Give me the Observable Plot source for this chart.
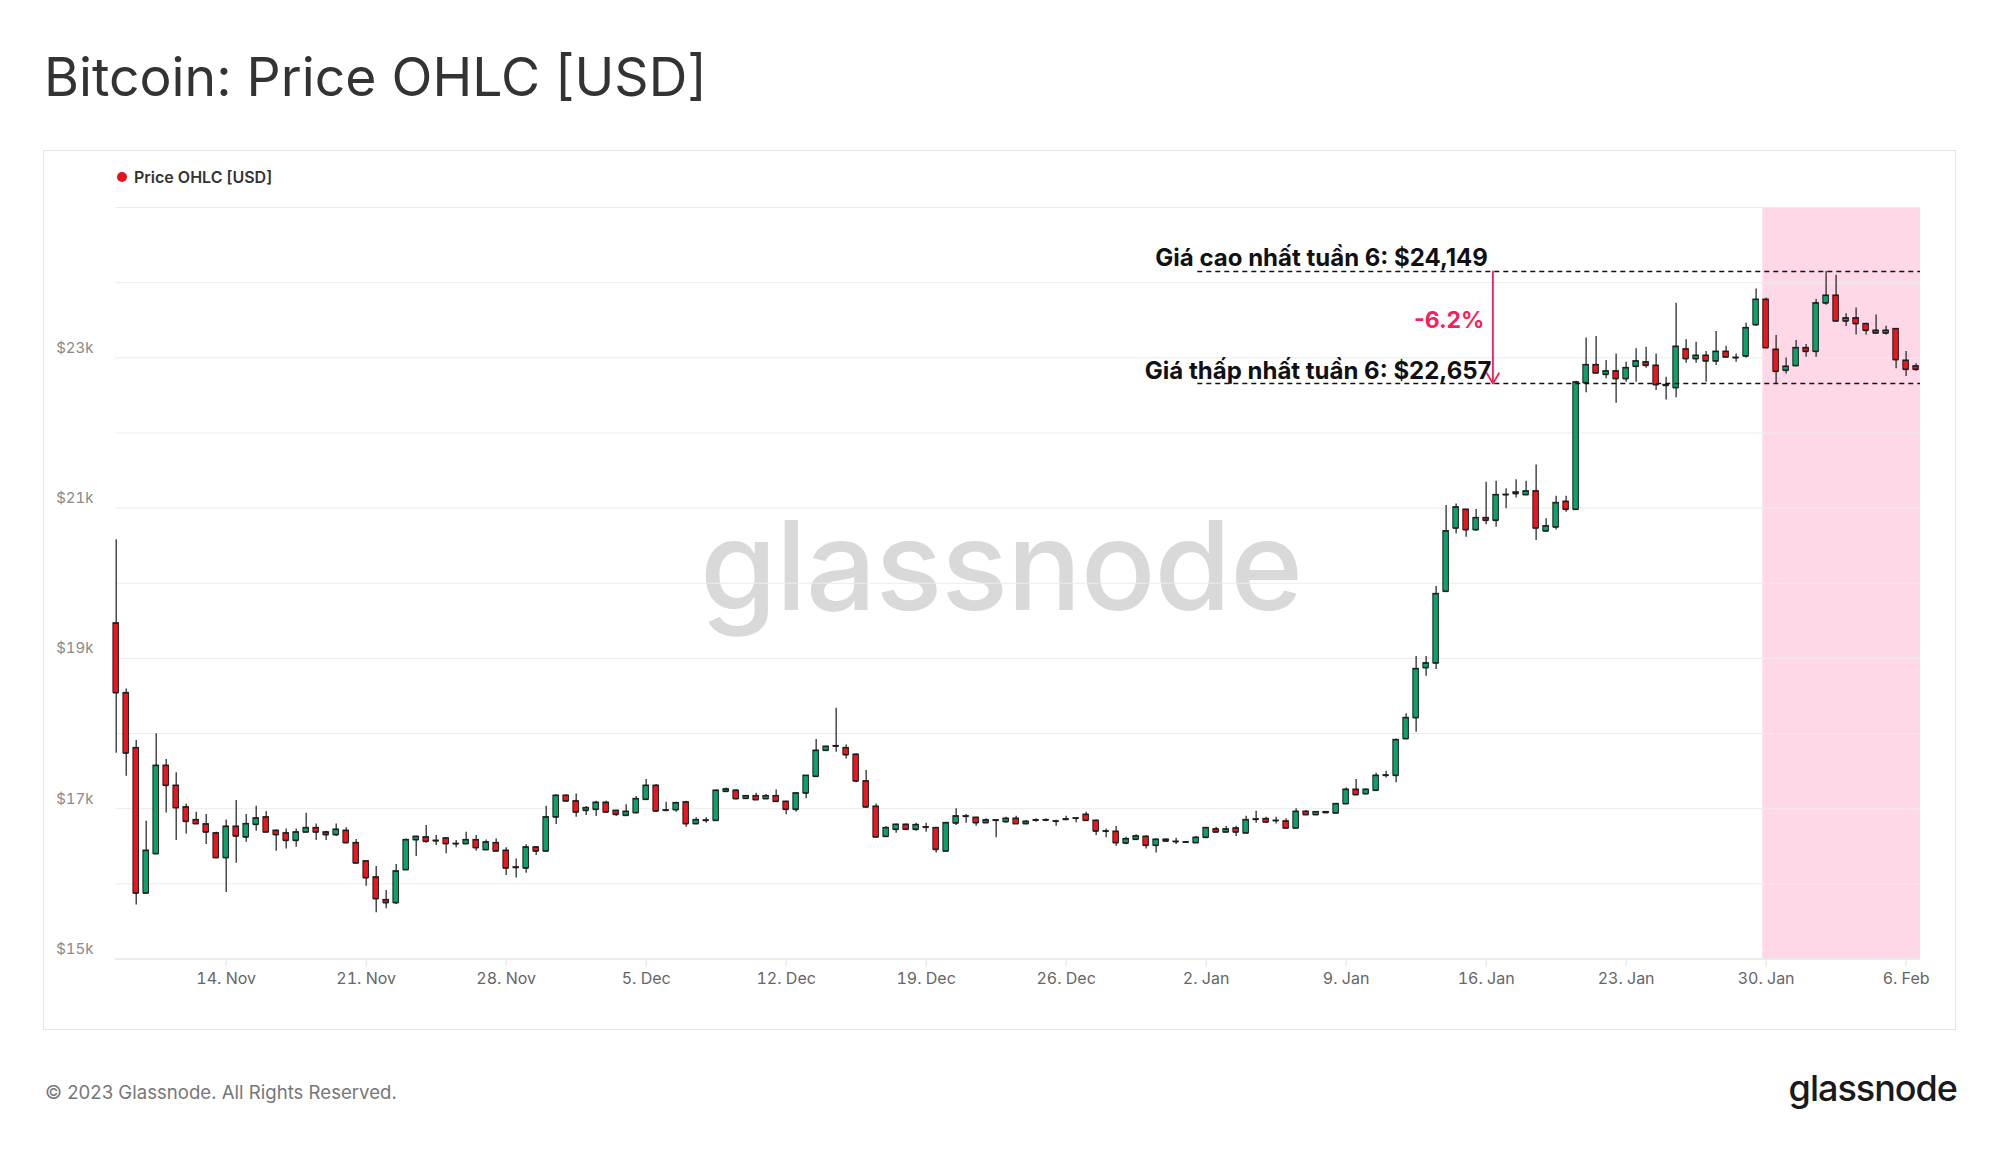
<!DOCTYPE html>
<html>
<head>
<meta charset="utf-8">
<script src="https://cdn.jsdelivr.net/npm/d3@7"></script>
<script src="https://cdn.jsdelivr.net/npm/@observablehq/plot@0.6"></script>
<style>
  html, body { margin: 0; padding: 0; background: #fff; }
  #page { position: relative; width: 2000px; height: 1152px; overflow: hidden; font-family: Inter, "Noto Sans", sans-serif; }
  #title { position: absolute; left: 44px; top: 45px; font-size: 53.5px; line-height: 64px; color: #333; white-space: nowrap; }
  #frame { position: absolute; left: 43px; top: 150px; width: 1913px; height: 880px; border: 1px solid #e4e4e4; box-sizing: border-box; }
  #legend-dot { position: absolute; left: 117px; top: 172px; width: 10px; height: 10px; border-radius: 50%; background: #e8101a; }
  #legend-text { position: absolute; left: 134px; top: 168px; font-size: 16px; line-height: 19px; font-weight: 600; color: #333; white-space: nowrap; }
  #watermark { position: absolute; left: 1001px; top: 491px; transform: translateX(-50%); font-size: 124px; line-height: 149px; font-weight: 500; letter-spacing: -1px; color: #d9d9d9; white-space: nowrap; }
  #footer { position: absolute; left: 45px; top: 1081px; font-size: 18.6px; line-height: 23px; color: #777; white-space: nowrap; }
  #logo { position: absolute; right: 43px; top: 1067px; font-size: 36px; line-height: 43px; font-weight: 500; letter-spacing: -1px; color: #1a1a1a; white-space: nowrap; }
  #chart { position: absolute; left: 0; top: 0; }
</style>
</head>
<body>
<div id="page">
  <div id="title">Bitcoin: Price OHLC [USD]</div>
  <div id="frame"></div>
  <div id="legend-dot"></div>
  <div id="legend-text">Price OHLC [USD]</div>
  <div id="watermark">glassnode</div>
  <div id="footer">© 2023 Glassnode. All Rights Reserved.</div>
  <div id="logo">glassnode</div>
  <div id="chart"></div>
</div>
<script>
// ---- Data: 12h Bitcoin candles starting 2022-11-08 12:00 UTC ----
const startTime = "2022-11-08T12:00:00Z";
const stepHours = 12;

const open = [
19468,18541,17809,15875,16399,17574,17308,17020,16851,16794,16674,16346,16763,16621,16789,16887,16709,16674,16576,16687,
16745,16687,16652,16709,16545,16301,16088,15787,15747,16186,16585,16621,16576,16607,16532,16532,16585,16452,16545,16443,
16221,16208,16487,16434,16887,17175,17100,16975,16989,17082,16975,16909,16944,17122,17308,16975,16984,17086,16798,16842,
16842,17228,17242,17135,17170,17131,17170,17095,16989,17206,17428,17774,17831,17809,17721,17366,17029,16629,16723,16789,
16723,16754,16745,16434,16807,16900,16882,16811,16847,16825,16869,16798,16847,16847,16833,16855,16873,16922,16842,16700,
16696,16541,16590,16629,16510,16590,16563,16554,16545,16616,16727,16687,16740,16674,16860,16865,16842,16833,16740,16962,
16918,16957,16940,17064,17255,17197,17242,17441,17441,17929,18209,18874,18936,19890,20732,20981,20710,20870,20835,21176,
21190,21176,21225,20693,20746,21087,20981,22666,22906,22777,22822,22720,22884,22942,22897,22640,22600,23114,22986,23030,
22955,23083,22999,23021,23438,23775,23110,22831,22893,23132,23083,23727,23829,23487,23527,23452,23363,23327,23385,22964,
22888
];
const high = [
20578,18594,17907,16833,17996,17654,17477,17064,16953,16922,16687,16851,17108,16922,17033,16962,16718,16731,16731,16940,
16798,16700,16798,16745,16589,16301,16230,15911,16257,16598,16634,16776,16643,16607,16576,16687,16643,16585,16598,16479,
16332,16519,16497,17033,17184,17184,17197,17029,17100,17100,16975,17051,17162,17388,17321,17086,17086,17100,16878,16878,
17250,17277,17255,17175,17206,17188,17250,17100,17206,17441,17920,17831,18337,17849,17730,17508,17064,16763,16798,16798,
16807,16807,16754,16820,16998,16922,16887,16865,16851,16887,16900,16842,16865,16865,16847,16900,16878,16953,16851,16731,
16763,16620,16652,16643,16598,16598,16607,16563,16629,16754,16754,16763,16767,16900,16967,16887,16887,16865,16998,16975,
16962,16962,17073,17277,17388,17264,17472,17499,17929,18262,19025,19025,19956,21034,21056,20981,20981,21345,21358,21256,
21376,21358,21575,20857,21158,21158,22689,23265,23283,22964,23052,22942,23119,23141,23052,22742,23727,23239,23208,23083,
23350,23154,23052,23461,23917,23797,23296,22999,23230,23177,23775,24149,24100,23585,23664,23461,23571,23420,23385,23083,
22920
];
const low = [
17738,17432,15720,15875,16399,16944,16576,16665,16798,16523,16346,15884,16275,16554,16700,16687,16434,16465,16488,16687,
16576,16576,16630,16541,16266,15969,15614,15667,15725,16186,16363,16541,16510,16399,16479,16523,16434,16452,16434,16110,
16079,16141,16377,16434,16789,17100,16887,16909,16896,16944,16896,16896,16944,17108,16953,16962,16953,16754,16798,16807,
16833,17220,17118,17127,17109,17131,17095,16918,16953,17131,17428,17774,17752,17663,17344,17011,16621,16621,16674,16723,
16700,16687,16412,16434,16776,16807,16767,16811,16612,16811,16789,16789,16820,16825,16767,16838,16812,16842,16643,16612,
16501,16519,16590,16465,16412,16554,16523,16545,16545,16607,16687,16687,16629,16674,16807,16807,16798,16740,16740,16909,
16918,16940,16940,17064,17175,17184,17242,17410,17344,17929,18018,18763,18852,19890,20657,20613,20692,20777,20746,20990,
21136,21176,20568,20693,20710,20946,20970,22535,22795,22720,22396,22675,22675,22862,22564,22440,22467,22928,22928,22675,
22897,23008,22942,22999,23416,23119,22657,22786,22884,23008,23008,23700,23487,23416,23305,23305,23318,23305,22853,22751,
22822
];
const close = [
18541,17738,15875,16443,17574,17308,17011,16829,16798,16687,16346,16763,16634,16798,16873,16687,16652,16576,16687,16745,
16687,16652,16723,16545,16275,16079,15800,15747,16168,16585,16629,16563,16570,16532,16535,16585,16479,16554,16434,16208,
16215,16487,16434,16887,17175,17100,16953,17011,17082,16953,16922,16962,17131,17308,16967,16980,17077,16798,16851,16846,
17242,17259,17131,17170,17117,17170,17095,16989,17206,17441,17774,17827,17835,17716,17366,17020,16621,16745,16789,16723,
16785,16750,16456,16811,16900,16896,16811,16847,16843,16869,16798,16829,16845,16850,16830,16860,16870,16842,16700,16698,
16545,16598,16634,16510,16590,16567,16560,16552,16616,16745,16687,16727,16687,16851,16856,16820,16840,16740,16962,16918,
16957,16945,17064,17255,17184,17255,17441,17445,17916,18209,18861,18936,19859,20693,21012,20710,20870,20835,21176,21180,
21210,21225,20732,20760,21070,20981,22675,22906,22795,22822,22720,22866,22955,22897,22640,22630,23150,22986,23030,22955,
23083,23008,23003,23398,23775,23132,22817,22884,23132,23083,23727,23829,23487,23527,23452,23363,23327,23363,22973,22844,
22844
];

// Axis ticks and labels
const xTickDates = ["2022-11-14","2022-11-21","2022-11-28","2022-12-05","2022-12-12","2022-12-19","2022-12-26",
                    "2023-01-02","2023-01-09","2023-01-16","2023-01-23","2023-01-30","2023-02-06"];
const xTickLabels = ["14. Nov","21. Nov","28. Nov","5. Dec","12. Dec","19. Dec","26. Dec",
                     "2. Jan","9. Jan","16. Jan","23. Jan","30. Jan","6. Feb"];
const yLabelTicks = [15000, 17000, 19000, 21000, 23000];
const yLabelTexts = ["$15k", "$17k", "$19k", "$21k", "$23k"];
const yGridTicks = [15000, 16000, 17000, 18000, 19000, 20000, 21000, 22000, 23000, 24000, 25000];

// Annotations (week 6)
const weekHigh = 24149;
const weekLow = 22657;
const weekChange = "-6.2%";
const weekChangeLevel = 23496;
const weekStart = "2023-01-29T20:00:00Z";
const weekEnd = "2023-02-07T00:00:00Z";
const highLabel = "Giá cao nhất tuần 6: $24,149";
const lowLabel = "Giá thấp nhất tuần 6: $22,657";

// ---- Build table ----
const t0 = new Date(startTime).getTime();
const H = 3600 * 1000;
const candles = open.map((o, i) => ({
  date: new Date(t0 + i * stepHours * H),
  open: o, high: high[i], low: low[i], close: close[i],
  up: close[i] >= o
}));
const halfW = 3.3 * H;

const labelMap = new Map(xTickDates.map((d, i) => [+new Date(d + "T00:00:00Z"), xTickLabels[i]]));
const yLabelMap = new Map(yLabelTicks.map((d, i) => [d, yLabelTexts[i]]));

const pink = "#f91e5c";
const lineStart = new Date("2023-01-01T14:00:00Z");
const levels = [
  {value: weekHigh, label: highLabel, tx: new Date("2023-01-16T02:10:00Z")},
  {value: weekLow, label: lowLabel, tx: new Date("2023-01-16T06:30:00Z")}
];

const chart = Plot.plot({
  width: 2000,
  height: 1152,
  marginLeft: 115,
  marginRight: 80,
  marginTop: 207,
  marginBottom: 193.5,
  style: {background: "transparent", fontFamily: "Inter, 'Noto Sans', sans-serif", fontSize: "15px", color: "#333", overflow: "visible"},
  x: {type: "utc", domain: [new Date("2022-11-08T11:10:00Z"), new Date("2023-02-06T17:17:00Z")]},
  y: {domain: [15000, 25000]},
  marks: [
    Plot.rect([{start: new Date(weekStart), end: new Date(weekEnd)}], {
      x1: "start", x2: "end", fill: "#ffd8e7", clip: true
    }),
    Plot.gridY(yGridTicks, {stroke: "#ececec", strokeOpacity: 1, strokeWidth: 1}),
    Plot.axisY({
      ticks: yLabelTicks, tickFormat: d => yLabelMap.get(d), tickSize: 0, tickPadding: 22,
      dy: -10, fontSize: 15, fill: "#8a8a8a", label: null
    }),
    Plot.axisX({
      ticks: xTickDates.map(d => new Date(d + "T00:00:00Z")), tickFormat: d => labelMap.get(+d),
      tickSize: 8, tickPadding: 6, stroke: "#e2e2e2", fill: "#666", fontSize: 16, label: null
    }),
    Plot.ruleY([15000], {stroke: "#e2e2e2"}),
    // wicks
    Plot.ruleX(candles, {x: "date", y1: "low", y2: "high", stroke: "#1c1c1c", strokeWidth: 1.2}),
    // bodies
    Plot.rect(candles, {
      x1: d => new Date(+d.date - halfW), x2: d => new Date(+d.date + halfW),
      y1: "open", y2: "close",
      fill: d => d.up ? "#0aa36a" : "#f2141c",
      stroke: "#1c1c1c", strokeWidth: 1
    }),
    Plot.ruleY(candles, {y: "open", x1: d => new Date(+d.date - halfW), x2: d => new Date(+d.date + halfW), stroke: "#1c1c1c", strokeWidth: 1.2}),
    Plot.ruleY(candles, {y: "close", x1: d => new Date(+d.date - halfW), x2: d => new Date(+d.date + halfW), stroke: "#1c1c1c", strokeWidth: 1.2}),
    // annotation dashed lines
    Plot.ruleY(levels, {y: "value", x1: () => lineStart, x2: () => new Date(weekEnd), stroke: "#111", strokeWidth: 1.5, strokeDasharray: "5,4", clip: true}),
    Plot.text(levels, {x: "tx", y: "value", text: "label", textAnchor: "end", lineAnchor: "bottom", dy: -5, fontSize: 24, fontWeight: 700, fill: "#111"}),
    Plot.text([weekChange], {x: () => new Date("2023-01-15T22:00:00Z"), y: () => weekChangeLevel, text: d => d, textAnchor: "end", lineAnchor: "middle", fontSize: 23, fontWeight: 700, fill: pink}),
    Plot.arrow([{x: new Date("2023-01-16T08:10:00Z"), a: weekHigh, b: weekLow}], {
      x1: "x", x2: "x", y1: "a", y2: "b", stroke: pink, strokeWidth: 1.8, headLength: 10, bend: 0
    })
  ]
});
document.getElementById("chart").appendChild(chart);
</script>
</body>
</html>
